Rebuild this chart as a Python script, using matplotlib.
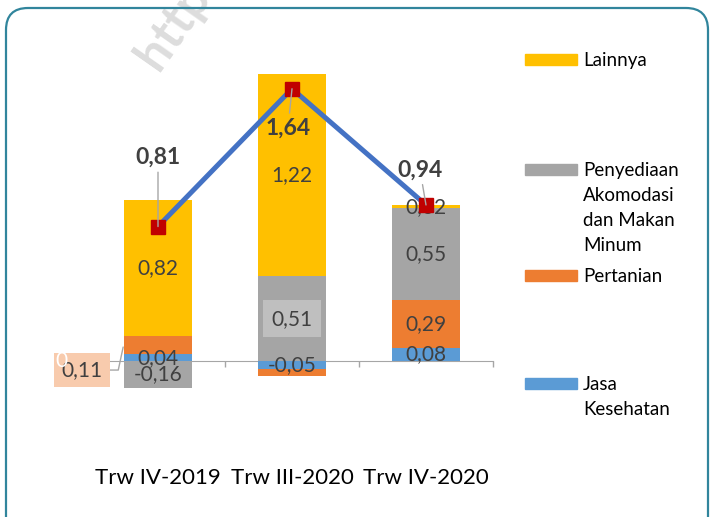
import matplotlib
matplotlib.use('Agg')
import matplotlib.pyplot as plt
from matplotlib.patches import Rectangle, FancyBboxPatch
import numpy as np

plt.rcParams['font.family'] = ['Lato', 'DejaVu Sans']

# data
periods = ['Trw IV-2019', 'Trw III-2020', 'Trw IV-2020']
series = ['Jasa\nKesehatan', 'Pertanian', 'Penyediaan\nAkomodasi\ndan Makan\nMinum', 'Lainnya']
jasa = [0.04, -0.05, 0.08]
pertanian = [0.11, -0.04, 0.29]
akomodasi = [-0.16, 0.51, 0.55]
lainnya = [0.82, 1.22, 0.02]
totals = [0.81, 1.64, 0.94]

colors = ['#5B9BD5', '#ED7D31', '#A5A5A5', '#FFC000']
label_col = '#404040'


def fmt(v):
    return ('%.2f' % v).replace('.', ',')


W, H = 712, 517
fig = plt.figure(figsize=(W / 100, H / 100), dpi=100)

# axes placed in pixel terms: x 91..493, y 60..400 (zero line at 361)
ppu = 166.0
ax = fig.add_axes([91 / W, 1 - 400 / H, 402 / W, 340 / H])
ax.set_xlim(-0.5, 2.5)
ax.set_ylim(-(400 - 361) / ppu, (361 - 60) / ppu)

x = np.arange(len(periods))
pos_base = np.zeros(len(periods))
neg_base = np.zeros(len(periods))
for k, vals in enumerate([jasa, pertanian, akomodasi, lainnya]):
    vals = np.array(vals)
    bottom = np.where(vals >= 0, pos_base, neg_base)
    ax.bar(x, vals, 0.51, bottom=bottom, color=colors[k], zorder=3)
    for i, v in enumerate(vals):
        yc = bottom[i] + v / 2
        if k == 1 and i in (0, 1):
            continue
        kw = {}
        if k == 2 and i == 1:
            kw['bbox'] = dict(boxstyle='square,pad=0.42', fc='#BFBFBF', ec='none')
        ax.text(i, yc, fmt(v), ha='center', va='center', fontsize=15,
                color=label_col, zorder=4, **kw)
    pos_base = pos_base + np.where(vals >= 0, vals, 0)
    neg_base = neg_base + np.where(vals < 0, vals, 0)

# callout for the small Pertanian value of first bar
ax.annotate(fmt(pertanian[0]), xy=(-0.26, 0.084), xytext=(-41, -23),
            textcoords='offset pixels', ha='center', va='center',
            fontsize=15, color=label_col, zorder=6,
            bbox=dict(boxstyle='square,pad=0.35', fc='#F8CBAD', ec='none'),
            arrowprops=dict(arrowstyle='-', color='#A6A6A6', lw=1,
                            relpos=(1, 0.5), shrinkA=0, shrinkB=0,
                            connectionstyle='angle,angleA=0,angleB=78,rad=0'))
fig.text(61 / W, 1 - 361 / H, '0', color='white', fontsize=15,
         ha='center', va='center', zorder=10)

# total line
ax.plot(x, totals, color='#4472C4', lw=3.6, zorder=5, solid_capstyle='butt')
ax.plot(x, totals, ls='none', marker='s', ms=10, mfc='#C00000', mec='#C00000',
        zorder=6)

offsets = [(0, 69), (-4, -39), (-6, 35)]
for i, v in enumerate(totals):
    dx, dy = offsets[i]
    ax.annotate(fmt(v), xy=(i, v), xytext=(dx, dy), textcoords='offset pixels',
                ha='center', va='center', fontsize=16.5, fontweight='bold',
                color=label_col, zorder=7,
                arrowprops=dict(arrowstyle='-', color='#A6A6A6', lw=1,
                                shrinkA=1, shrinkB=0))

# axis styling
for s in ['left', 'right', 'top']:
    ax.spines[s].set_visible(False)
ax.spines['bottom'].set_position(('data', 0))
ax.spines['bottom'].set_color('#A6A6A6')
ax.spines['bottom'].set_zorder(2)
ax.set_yticks([])
ax.set_xticks(x)
ax.set_xticklabels(periods, fontsize=16, color='black')
ax.tick_params(axis='x', which='major', length=0, pad=77)
ax.set_xticks([-0.5, 0.5, 1.5, 2.5], minor=True)
ax.tick_params(axis='x', which='minor', length=4.5, width=1, color='#A6A6A6')
ax.patch.set_visible(False)

# legend drawn manually (Excel style: swatch aligned with first line)
leg_labels = series[::-1]
leg_colors = colors[::-1]
leg_base = [66, 176, 282, 390]
for lab, col, yb in zip(leg_labels, leg_colors, leg_base):
    fig.add_artist(Rectangle((525 / W, 1 - (yb - 1) / H), 52 / W, 11 / H,
                             transform=fig.transFigure, color=col))
    for j, line in enumerate(lab.split('\n')):
        fig.text(583 / W, 1 - (yb + 25 * j) / H, line, fontsize=13.5,
                 va='baseline', ha='left', color='black')

# watermark
fig.text(158 / W, 1 - 72 / H, 'http://', rotation=55, rotation_mode='anchor',
         color='#DDDDDD', fontsize=36, fontweight='bold', ha='left',
         va='baseline', zorder=0)

# rounded frame
frame = FancyBboxPatch((0.06, -0.3), 7.02, 5.09 + 0.3,
                       boxstyle='round,pad=0,rounding_size=0.22',
                       transform=fig.dpi_scale_trans, fc='none',
                       ec='#31859C', lw=1.6)
fig.add_artist(frame)

fig.savefig('out.png', dpi=100)
